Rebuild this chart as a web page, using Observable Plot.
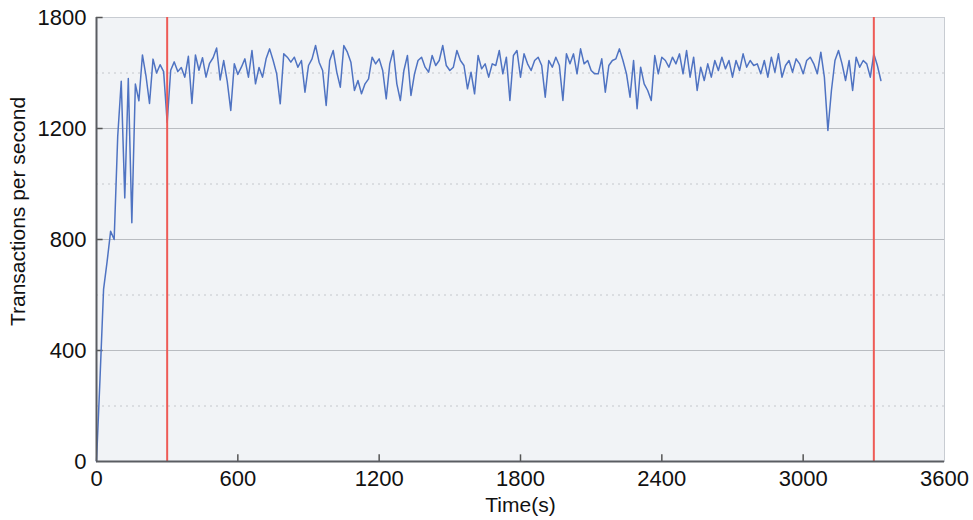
<!DOCTYPE html>
<html>
<head>
<meta charset="utf-8">
<script src="https://cdn.jsdelivr.net/npm/d3@7"></script>
<script src="https://cdn.jsdelivr.net/npm/@observablehq/plot@0.6"></script>
<style>
  html, body { margin: 0; padding: 0; background: #fff; }
</style>
</head>
<body>
<div id="chart"></div>
<script>
// Sampling step of the series (seconds)
const stepSeconds = 15;
// Transactions per second, one value per sample
const tps = [
  0,300,620,720,830,800,1170,1370,950,1380,860,1360,1300,1465,1390,1290,1450,1400,1430,1405,
  1222,1410,1440,1405,1420,1385,1460,1290,1465,1410,1455,1385,1435,1455,1490,1375,1445,1370,1265,1433,
  1395,1421,1451,1385,1481,1361,1420,1385,1451,1487,1445,1397,1289,1469,1457,1439,1457,1421,1445,1331,
  1427,1451,1499,1439,1409,1283,1445,1481,1403,1349,1499,1475,1439,1337,1373,1325,
  1361,1379,1457,1433,1451,1409,1307,1433,1481,1361,1301,1409,1463,1319,1397,1445,1457,1421,1403,1463,
  1427,1445,1499,1427,1409,1421,1481,1445,1427,1343,1403,1325,1463,1415,1433,1385,1433,
  1427,1481,1397,1457,1301,1463,1481,1385,1469,1433,1409,1445,1457,1427,1313,1445,1421,1457,1427,1301,
  1469,1433,1469,1397,1487,1433,1445,1409,1397,1397,1451,1331,1427,1445,1451,1487,1445,
  1397,1313,1445,1271,1421,1361,1337,1301,1463,1397,1457,1445,1421,1457,1433,1469,1397,1481,1385,1457,
  1337,1421,1373,1433,1385,1445,1409,1457,1415,1445,1385,1445,1409,1469,1421,1445,1427,
  1433,1397,1445,1385,1457,1403,1469,1385,1427,1445,1403,1451,1433,1397,1445,1457,1433,1397,1475,1385,
  1193,1337,1445,1481,1433,1373,1445,1337,1457,1421,1445,1433,1385,1469,1427,1373
];
// Red marker lines (seconds)
const markerTimes = [300, 3300];
// Axis ticks
const xTicks = [0, 600, 1200, 1800, 2400, 3000, 3600];
const yTicks = [0, 400, 800, 1200, 1600];
const yTickLabels = ["0", "400", "800", "1200", "1800"];
const ySolidGrid = [400, 800, 1200];
const yDottedGrid = [200, 600, 1000, 1400];
const xTitle = "Time(s)";
const yTitle = "Transactions per second";

const data = tps.map((v, i) => ({t: i * stepSeconds, v}));

const chart = Plot.plot({
  width: 973,
  height: 520,
  marginLeft: 96,
  marginRight: 29,
  marginTop: 17,
  marginBottom: 59,
  style: {
    fontFamily: "'Liberation Sans', Arial, sans-serif",
    fontSize: "22px",
    color: "#111",
    background: "#fff"
  },
  x: {domain: [0, 3600]},
  y: {domain: [0, 1600]},
  marks: [
    Plot.frame({fill: "#f1f3f6", stroke: "#c8ccd2"}),
    Plot.ruleY(yDottedGrid, {stroke: "#c4c7cc", strokeDasharray: "2,4", strokeWidth: 1}),
    Plot.ruleY(ySolidGrid, {stroke: "#b9bcc1", strokeWidth: 1}),
    Plot.ruleX(xTicks.slice(1, -1), {y1: 0, y2: 24, stroke: "#555", strokeWidth: 1.5}),
    Plot.ruleY(yTicks.slice(1), {x1: 0, x2: 28, stroke: "#555", strokeWidth: 1.5}),
    Plot.line(data, {x: "t", y: "v", stroke: "#4f73c2", strokeWidth: 1.5}),
    Plot.ruleX(markerTimes, {stroke: "#ee5a55", strokeWidth: 2}),
    Plot.ruleX([0], {stroke: "#5a5d62", strokeWidth: 2}),
    Plot.ruleY([0], {stroke: "#5a5d62", strokeWidth: 2}),
    Plot.axisX({ticks: xTicks, tickSize: 0, tickPadding: 9, tickFormat: d => String(d), label: null}),
    Plot.axisY({ticks: yTicks, tickSize: 0, tickPadding: 10, tickFormat: d => yTickLabels[yTicks.indexOf(d)], label: null}),
    Plot.text([xTitle], {frameAnchor: "bottom", dy: 50, fontSize: 21, text: d => d}),
    Plot.text([yTitle], {frameAnchor: "left", textAnchor: "middle", dx: -78, dy: -28, rotate: -90, fontSize: 21, text: d => d})
  ]
});
document.getElementById("chart").appendChild(chart);
</script>
</body>
</html>
